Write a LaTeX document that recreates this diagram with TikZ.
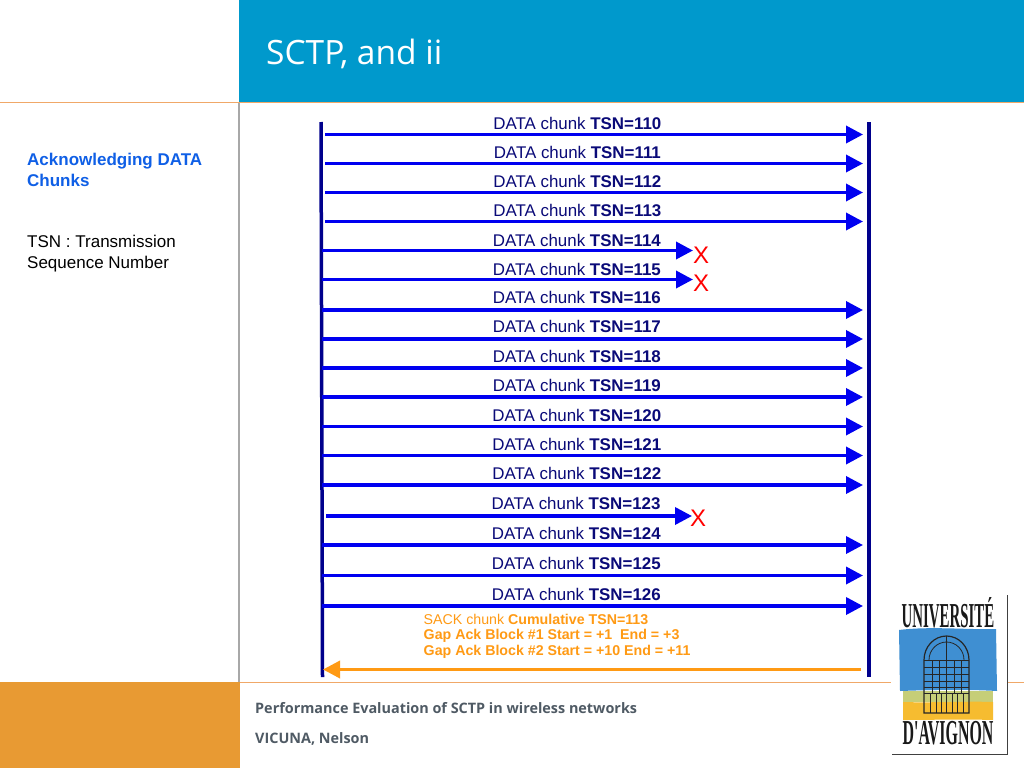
\documentclass[tikz,border=0pt]{standalone}
\usepackage{fontspec}
\setmainfont{Liberation Sans}
\newfontfamily\titlefont{Open Sans}
\newfontfamily\logofont{Liberation Serif}
\usetikzlibrary{arrows.meta}

\definecolor{headblue}{HTML}{0099CC}
\definecolor{footorange}{HTML}{E89A33}
\definecolor{rulegray}{HTML}{A8A8A8}
\definecolor{ruleorange}{HTML}{F0A868}
\definecolor{hostnavy}{HTML}{00008C}
\definecolor{datablue}{HTML}{0000F0}
\definecolor{labelnavy}{HTML}{0A0A78}
\definecolor{sackorange}{HTML}{FF9A14}
\definecolor{sideblue}{HTML}{0F5FE6}
\definecolor{footgray}{HTML}{4F5A64}
\definecolor{logoblue}{HTML}{3F8FD2}
\definecolor{logogreen}{HTML}{C6CE78}
\definecolor{logoyellow}{HTML}{F6BC30}

\begin{document}
\begin{tikzpicture}[
x=1pt, y=-1pt,
hostline/.style={draw=hostnavy, line width=3.5pt},
datachunk/.style={-{Triangle[length=17pt, width=17pt]}, draw=datablue, line width=3.5pt},
sackchunk/.style={-{Triangle[length=17pt, width=17pt]}, draw=sackorange, line width=3.5pt},
chunklabel/.style={above=1pt, inner sep=2pt, text=labelnavy, font=\fontsize{16.9}{18}\selectfont},
lost/.style={text=red, inner sep=0pt, font=\fontsize{24}{26}\selectfont},
sidetext/.style={anchor=north west, inner sep=0pt, align=left, font=\fontsize{17}{21}\selectfont},
foottext/.style={anchor=west, inner sep=0pt, text=footgray, font=\titlefont\bfseries\fontsize{14.4}{16}\selectfont},
logotext/.style={inner sep=0pt, text=black!90, font=\logofont\bfseries\fontsize{35}{37}\selectfont},
doorline/.style={draw=black!85, line width=0.8pt}
]

\useasboundingbox (0,0) rectangle (1024,768);
\fill[white] (0,0) rectangle (1024,768);

% slide frame
\fill[headblue] (239,0) rectangle (1024,102);
\fill[footorange] (0,682) rectangle (240,768);
\draw[rulegray, line width=1.5pt] (239,102) -- (239,682);
\draw[ruleorange, line width=1pt] (0,102.5) -- (1024,102.5);
\draw[ruleorange, line width=1pt] (240,682.5) -- (1024,682.5);

\node[anchor=west, inner sep=0pt, text=white, font=\titlefont\fontsize{33.5}{36}\selectfont] (title) at (266,53.5) {SCTP, and ii};
\node[sidetext, text=sideblue, font=\bfseries\fontsize{17}{21}\selectfont] (side_head) at (27,153) {Acknowledging DATA\\Chunks};
\node[sidetext] (side_note) at (27,234.5) {TSN : Transmission\\Sequence Number};
\node[foottext] (foot_talk) at (255,708.5) {Performance Evaluation of SCTP in wireless networks};
\node[foottext] (foot_name) at (255,738.5) {VICUNA, Nelson};

% hosts
\coordinate (host_a_top) at (321,122);
\coordinate (host_a_end) at (322.5,677);
\coordinate (host_b_top) at (869,122);
\coordinate (host_b_end) at (869,677);
\path[hostline] (host_a_top) -- (host_a_end);
\path[hostline] (host_b_top) -- (host_b_end);

% chunk ends
\coordinate (a110) at (325,134.5);
\coordinate (b110) at (863,134.5);
\coordinate (a111) at (325,163.5);
\coordinate (b111) at (863,163.5);
\coordinate (a112) at (325,192.5);
\coordinate (b112) at (863,192.5);
\coordinate (a113) at (325,221.5);
\coordinate (b113) at (863,221.5);
\coordinate (a114) at (322,250.5);
\coordinate (b114) at (693,250.5);
\coordinate (a115) at (322,279.5);
\coordinate (b115) at (693,279.5);
\coordinate (a116) at (322,310);
\coordinate (b116) at (863,310);
\coordinate (a117) at (322,339);
\coordinate (b117) at (863,339);
\coordinate (a118) at (322,368);
\coordinate (b118) at (863,368);
\coordinate (a119) at (322,397);
\coordinate (b119) at (863,397);
\coordinate (a120) at (322,426.5);
\coordinate (b120) at (863,426.5);
\coordinate (a121) at (322,455.5);
\coordinate (b121) at (863,455.5);
\coordinate (a122) at (322,485);
\coordinate (b122) at (863,485);
\coordinate (a123) at (326,516);
\coordinate (b123) at (692,516);
\coordinate (a124) at (322,545);
\coordinate (b124) at (863,545);
\coordinate (a125) at (322,575.5);
\coordinate (b125) at (863,575.5);
\coordinate (a126) at (322,606);
\coordinate (b126) at (863,606);

\path (a110) edge[datachunk] node [pos=0.469, chunklabel, yshift=0.5pt] {DATA chunk \textbf{TSN=110}} (b110);
\path (a111) edge[datachunk] node [pos=0.469, chunklabel, yshift=0.5pt] {DATA chunk \textbf{TSN=111}} (b111);
\path (a112) edge[datachunk] node [pos=0.469, chunklabel, yshift=0.5pt] {DATA chunk \textbf{TSN=112}} (b112);
\path (a113) edge[datachunk] node [pos=0.469, chunklabel, yshift=0.5pt] {DATA chunk \textbf{TSN=113}} (b113);
\path (a114) edge[datachunk] node [pos=0.687, chunklabel, yshift=-0.5pt] {DATA chunk \textbf{TSN=114}} (b114);
\path (a115) edge[datachunk] node [pos=0.687, chunklabel, yshift=-0.5pt] {DATA chunk \textbf{TSN=115}} (b115);
\path (a116) edge[datachunk] node [pos=0.471, chunklabel, yshift=1.5pt] {DATA chunk \textbf{TSN=116}} (b116);
\path (a117) edge[datachunk] node [pos=0.471, chunklabel, yshift=1.5pt] {DATA chunk \textbf{TSN=117}} (b117);
\path (a118) edge[datachunk] node [pos=0.471, chunklabel, yshift=0.5pt] {DATA chunk \textbf{TSN=118}} (b118);
\path (a119) edge[datachunk] node [pos=0.471, chunklabel, yshift=0.5pt] {DATA chunk \textbf{TSN=119}} (b119);
\path (a120) edge[datachunk] node [pos=0.471, chunklabel, yshift=0.5pt] {DATA chunk \textbf{TSN=120}} (b120);
\path (a121) edge[datachunk] node [pos=0.471, chunklabel, yshift=0.5pt] {DATA chunk \textbf{TSN=121}} (b121);
\path (a122) edge[datachunk] node [pos=0.471, chunklabel, yshift=0.5pt] {DATA chunk \textbf{TSN=122}} (b122);
\path (a123) edge[datachunk] node [pos=0.683, chunklabel, yshift=1.5pt] {DATA chunk \textbf{TSN=123}} (b123);
\path (a124) edge[datachunk] node [pos=0.47, chunklabel, yshift=0.5pt] {DATA chunk \textbf{TSN=124}} (b124);
\path (a125) edge[datachunk] node [pos=0.47, chunklabel, yshift=1.5pt] {DATA chunk \textbf{TSN=125}} (b125);
\path (a126) edge[datachunk] node [pos=0.47, chunklabel, yshift=0.5pt] {DATA chunk \textbf{TSN=126}} (b126);

\node[lost] (lost_114) at (701,255) {X};
\node[lost] (lost_115) at (701,283) {X};
\node[lost] (lost_123) at (698,518) {X};

% sack
\coordinate (sack_start) at (861,669.5);
\coordinate (sack_end) at (323,669.5);
\path (sack_start) edge[sackchunk] (sack_end);
\node[anchor=north west, inner sep=0pt, align=left, text=sackorange, font=\fontsize{14.2}{15.5}\selectfont] (sack_label) at (423.5,614) {SACK chunk \textbf{Cumulative TSN=113}\\\textbf{Gap Ack Block \#1 Start = +1\ \ End = +3}\\\textbf{Gap Ack Block \#2 Start = +10 End = +11}};

% logo
\fill[black!75] (892,595) rectangle (1008,755);
\fill[white] (890.5,593.5) rectangle (1006.5,753.5);
\fill[logoblue] (899,630) .. controls (930,626) and (970,630) .. (996,629) -- (997,691) .. controls (960,689) and (930,690) .. (900,691) -- cycle;
\fill[logogreen] (903,691) rectangle (993,702);
\fill[logoyellow] (903,702) .. controls (930,703) and (970,701) .. (993,702) -- (993,720) .. controls (960,719) and (930,720) .. (903,720) -- cycle;
\draw[doorline, line width=1.2pt] (924,713) -- (924,660) arc[start angle=180, end angle=360, x radius=22.5, y radius=24] -- (969,713) -- cycle;
\draw[doorline] (924,660) -- (969,660) (946.5,636) -- (946.5,713) (924,693) -- (969,693);
\draw[doorline] (929,660) arc[start angle=180, end angle=360, x radius=17.5, y radius=18];
\draw[doorline] (932,660) -- (932,693) (939,660) -- (939,693) (954,660) -- (954,693) (961,660) -- (961,693);
\draw[doorline] (924,667) -- (969,667) (924,674) -- (969,674) (924,681) -- (969,681) (924,687) -- (969,687);
\draw[doorline] (930,693) -- (930,713) (936,693) -- (936,713) (941,693) -- (941,713) (952,693) -- (952,713) (957,693) -- (957,713) (963,693) -- (963,713);
\node[logotext, xscale=0.425] (logo_top) at (948,613) {UNIVERSITÉ};
\node[logotext, xscale=0.455] (logo_bottom) at (948,733) {D'AVIGNON};

\end{tikzpicture}
\end{document}
